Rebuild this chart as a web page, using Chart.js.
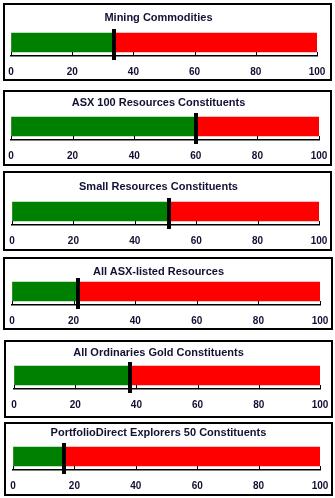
<!DOCTYPE html>
<html>
<head>
<meta charset="utf-8">
<script src="https://cdn.jsdelivr.net/npm/chart.js@4"></script>
<style>
  html,body{margin:0;padding:0;background:#fff;}
  body{width:335px;height:498px;position:relative;overflow:hidden;}
  .panel{position:absolute;border:2px solid #000;box-sizing:border-box;background:#fff;}
  .panel canvas{position:absolute;left:0;top:0;}
  .ttl{position:absolute;left:0;text-align:center;white-space:nowrap;font:bold 11px/13px Arial,'Liberation Sans',sans-serif;color:#111133;}
</style>
</head>
<body>
<script>
// chart data
const titles=['Mining Commodities','ASX 100 Resources Constituents','Small Resources Constituents','All ASX-listed Resources','All Ordinaries Gold Constituents','PortfolioDirect Explorers 50 Constituents'];
const values=[33.5,60,51,21.5,38,16.5];
const axisMin=0;
const axisMax=100;
const tickStep=20;

// layout (page px): panel box [left, top, width, height], title centre y, top of the bar, plot left/right
const boxes=[[3,3,329,78],[3,90,329,76],[3,171,329,80],[3,257,330,73],[4,340,329,78],[4,422,329,74]];
const titleYs=[17,102,186,271,352,432];
const barTops=[33,117,202,282,366,447];
const plotX=[[11,317],[11,319],[12,319],[12,320],[14,320],[13,320]];
const titleCenterX=158.5;

const INK='#111133';
const FONT="Arial, 'Liberation Sans', sans-serif";
const BAR=19, GAP=4, TICKGAP=10;

// black marker at the value + small upward ticks on the axis
const markerPlugin={
  id:'marker',
  afterDatasetsDraw(chart,args,opts){
    const sx=chart.scales.x;
    const a=chart.chartArea;
    const ctx=chart.ctx;
    ctx.save();
    ctx.strokeStyle='#000';
    ctx.lineWidth=1;
    sx.ticks.forEach(tk=>{
      const px=Math.round(sx.getPixelForValue(tk.value))+0.5;
      ctx.beginPath(); ctx.moveTo(px,a.bottom-4); ctx.lineTo(px,a.bottom); ctx.stroke();
    });
    const x=sx.getPixelForValue(opts.value);
    ctx.fillStyle='#000';
    ctx.fillRect(Math.round(x-2),a.top,4,a.bottom-a.top+4);
    ctx.restore();
  }
};

titles.forEach((t,i)=>{
  const [bl,bt,bw,bh]=boxes[i];
  const div=document.createElement('div');
  div.className='panel';
  div.style.left=bl+'px'; div.style.top=bt+'px';
  div.style.width=bw+'px'; div.style.height=bh+'px';
  const cv=document.createElement('canvas');
  const W=bw-4, H=bh-4;
  cv.width=W; cv.height=H;
  cv.style.width=W+'px'; cv.style.height=H+'px';
  div.appendChild(cv);
  const chartTop=barTops[i]-GAP-(bt+2);
  const chartBottom=chartTop+BAR+2*GAP;
  const ttl=document.createElement('div');
  ttl.className='ttl';
  ttl.textContent=t;
  ttl.style.width=(2*(titleCenterX-bl-2))+'px';
  ttl.style.top=(titleYs[i]-6.5-(bt+2))+'px';
  div.appendChild(ttl);
  document.body.appendChild(div);
  const padL=plotX[i][0]-bl-2;
  const padR=(bl+bw-2)-plotX[i][1];
  const padB=Math.max(0,H-chartBottom-(TICKGAP+12));
  new Chart(cv.getContext('2d'),{
    type:'bar',
    data:{
      labels:[t],
      datasets:[
        {data:[[axisMin,values[i]]],backgroundColor:'#008000',barThickness:BAR,grouped:false,borderWidth:0},
        {data:[[values[i],axisMax]],backgroundColor:'#ff0000',barThickness:BAR,grouped:false,borderWidth:0}
      ]
    },
    options:{
      indexAxis:'y',
      responsive:false,
      animation:false,
      devicePixelRatio:1,
      layout:{padding:{left:padL,right:padR,top:chartTop,bottom:padB}},
      plugins:{
        legend:{display:false},
        tooltip:{enabled:false},
        title:{display:false},
        marker:{value:values[i]}
      },
      scales:{
        x:{
          min:axisMin,max:axisMax,
          grid:{display:true,drawOnChartArea:false,drawTicks:true,tickLength:TICKGAP,color:'rgba(0,0,0,0)'},
          border:{display:true,color:'#000',width:1.5},
          ticks:{stepSize:tickStep,color:INK,padding:0,maxRotation:0,font:{family:FONT,size:10,weight:'bold',lineHeight:'12px'}}
        },
        y:{display:false}
      }
    },
    plugins:[markerPlugin]
  });
});
</script>
</body>
</html>
